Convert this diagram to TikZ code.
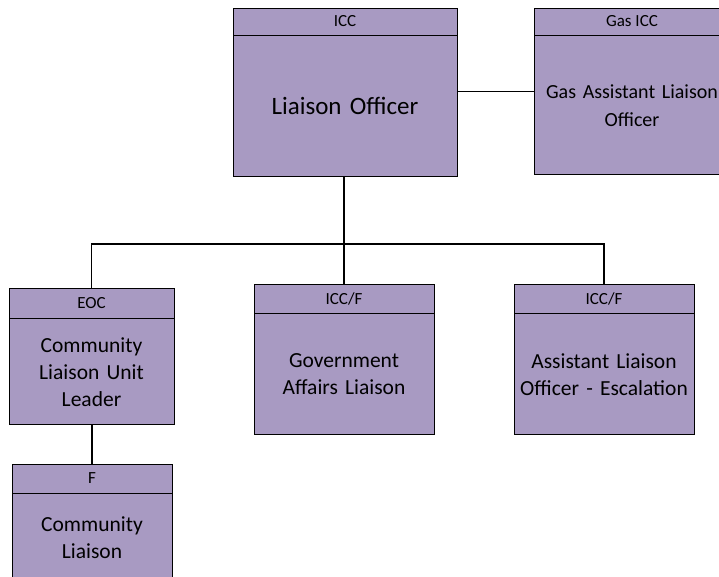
\documentclass[tikz,border=0pt]{standalone}
\usepackage{fontspec}
\setmainfont{Carlito}
\usetikzlibrary{positioning}

\definecolor{boxfill}{RGB}{168,154,194}

\tikzset{
  headbox/.style={draw, thick, fill=boxfill, inner sep=0pt, minimum height=29pt,
    font=\fontsize{17}{20}\selectfont},
  bodybox/.style={draw, thick, fill=boxfill, inner xsep=0pt, inner ysep=0pt, align=center,
    font=\fontsize{21.5}{27}\selectfont},
  link/.style={line width=1.4pt},
}

\begin{document}
\begin{tikzpicture}[x=1pt, y=-1pt, node distance=0pt]
  \useasboundingbox (0,0) rectangle (719,577);
  \clip (0,0) rectangle (719,577);
  % \draw[step=50,thin,gray!40] (0,0) grid (719,577);

  \node[headbox, minimum width=224pt, minimum height=27pt] (loHead) at (345,21.5) {ICC};
  \node[bodybox, text width=224pt, minimum height=141pt, below=of loHead,
        font=\fontsize{25}{30}\selectfont] (lo) {Liaison Officer};

  \node[headbox, minimum width=196pt, minimum height=27pt] (gasHead) at (632,21.5) {Gas ICC};
  \node[bodybox, text width=196pt, minimum height=139pt, below=of gasHead,
        font=\fontsize{20}{28}\selectfont] (gas) {Gas Assistant Liaison\\Officer};

  \node[headbox, minimum width=165pt, minimum height=30pt] (eocHead) at (91.5,303) {EOC};
  \node[bodybox, text width=165pt, minimum height=106pt, below=of eocHead] (eoc) {Community\\Liaison Unit\\Leader};

  \node[headbox, minimum width=160pt] (fHead) at (92,478.5) {F};
  \node[bodybox, text width=160pt, minimum height=88pt, below=of fHead] (f) {Community\\Liaison};

  \node[headbox, minimum width=180pt] (govHead) at (344,298.5) {ICC/F};
  \node[bodybox, text width=180pt, minimum height=121pt, below=of govHead] (gov) {Government\\Affairs Liaison};

  \node[headbox, minimum width=180pt] (asstHead) at (604,298.5) {ICC/F};
  \node[bodybox, text width=180pt, minimum height=121pt, below=of asstHead] (asst) {Assistant Liaison\\Officer - Escalation};

  \coordinate (bus) at (344,244);

  \draw[line width=1.8pt] (lo.south -| bus) -- (bus);
  \draw[link] (bus) -| (eocHead.north);
  \draw[link] (bus) -| (asstHead.north);
  \draw[link] (bus) -- (govHead.north);
  \draw[link] (eoc.south -| fHead.north) -- (fHead.north);
  \draw[link] ([yshift=14.5pt]lo.east) coordinate (tie) -- (tie -| gas.west);

\end{tikzpicture}
\end{document}
